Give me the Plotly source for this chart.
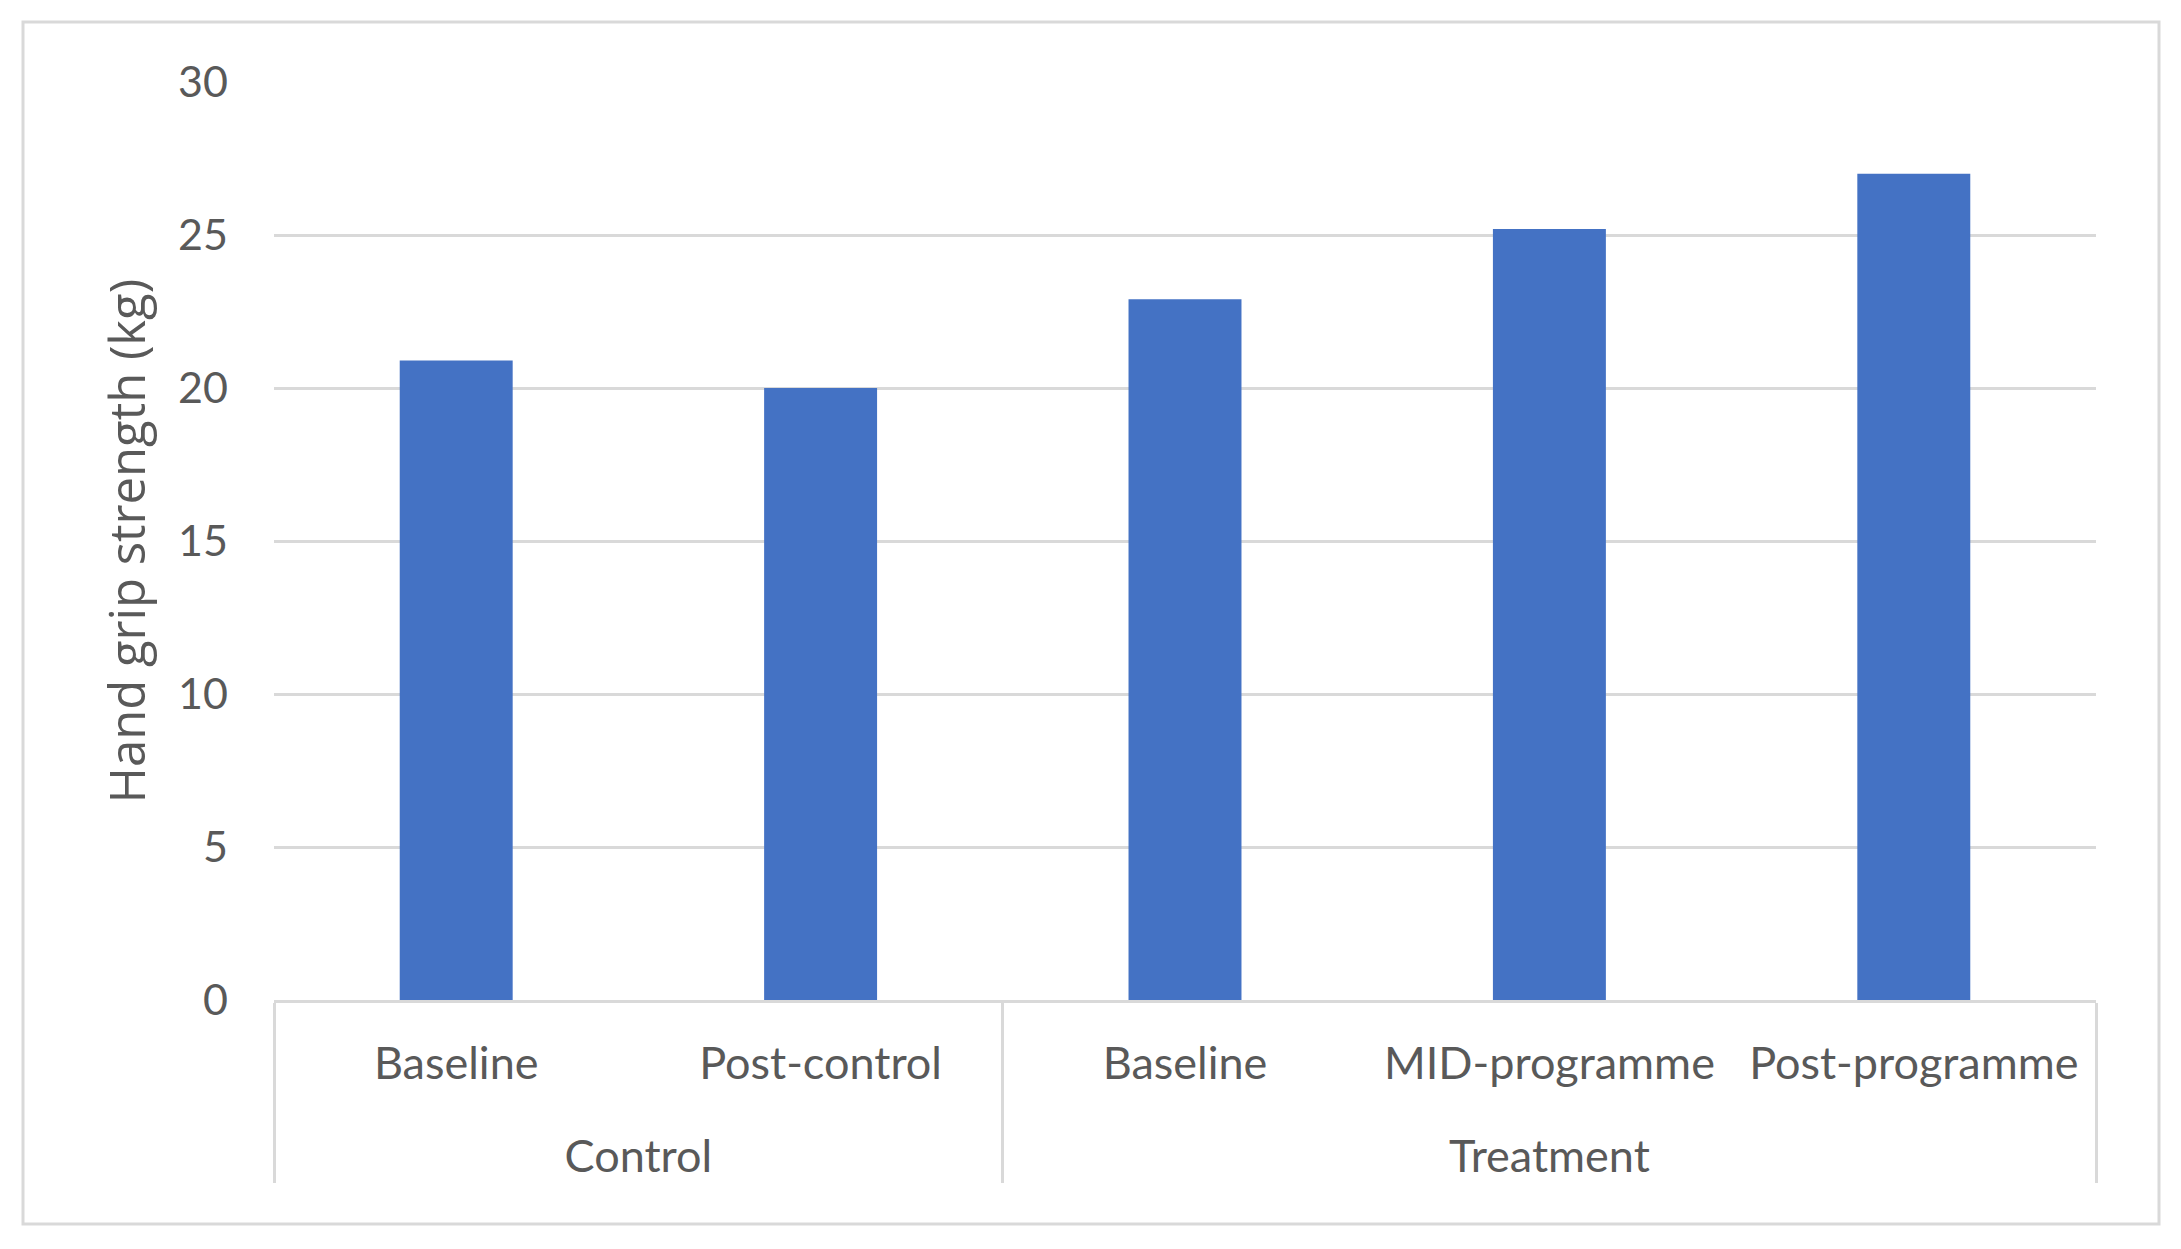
import plotly.graph_objects as go

groups = ["Control", "Control", "Treatment", "Treatment", "Treatment"]
phases = ["Baseline", "Post-control", "Baseline", "MID-programme", "Post-programme"]
grip_kg = [20.9, 20.0, 22.9, 25.2, 27.0]
y_ticks = [0, 5, 10, 15, 20, 25, 30]

# group labels drawn one line lower, as in the reference
group_labels = ["<br>" + g for g in groups]

W, H = 2181, 1249
OFF = 8  # page body offset in the screenshot
L, R, T, B = 274 - OFF, 85 + OFF, 82 - OFF, 249 + OFF
pw, ph = W - L - R, H - T - B

fig = go.Figure(
    go.Bar(
        x=[group_labels, phases],
        y=grip_kg,
        marker=dict(color="#4472C4", line=dict(width=0)),
        width=0.31,
    )
)

fig.update_layout(
    width=W,
    height=H,
    margin=dict(l=L, r=R, t=T, b=B),
    paper_bgcolor="white",
    plot_bgcolor="white",
    showlegend=False,
    font=dict(family="Lato", color="#595959"),
)

fig.update_yaxes(
    range=[0, 30],
    tickvals=y_ticks,
    tickfont=dict(family="Lato", size=43, color="#595959"),
    showgrid=True,
    gridcolor="#d9d9d9",
    gridwidth=3,
    zeroline=False,
    showline=False,
    ticks="",
    ticklabelstandoff=45,
    title=dict(
        text="Hand grip strength (kg)",
        font=dict(family="Open Sans", size=49, color="#595959"),
        standoff=16,
    ),
)

fig.update_xaxes(
    type="multicategory",
    tickfont=dict(family="Lato", size=45, color="#595959"),
    showline=True,
    linecolor="#d9d9d9",
    linewidth=3,
    showdividers=True,
    dividercolor="#d9d9d9",
    dividerwidth=3,
    ticks="",
    ticklabelstandoff=22,
    showgrid=False,
)

# outer chart border
fig.add_shape(
    type="rect",
    xref="paper",
    yref="paper",
    x0=(23 - OFF - L) / pw,
    x1=(2159 - OFF - L) / pw,
    y0=-(1224 - OFF - (H - B)) / ph,
    y1=(H - B - (22 - OFF)) / ph,
    line=dict(color="#d9d9d9", width=3),
    fillcolor="rgba(0,0,0,0)",
    layer="below",
)

fig.write_html("out.html")
